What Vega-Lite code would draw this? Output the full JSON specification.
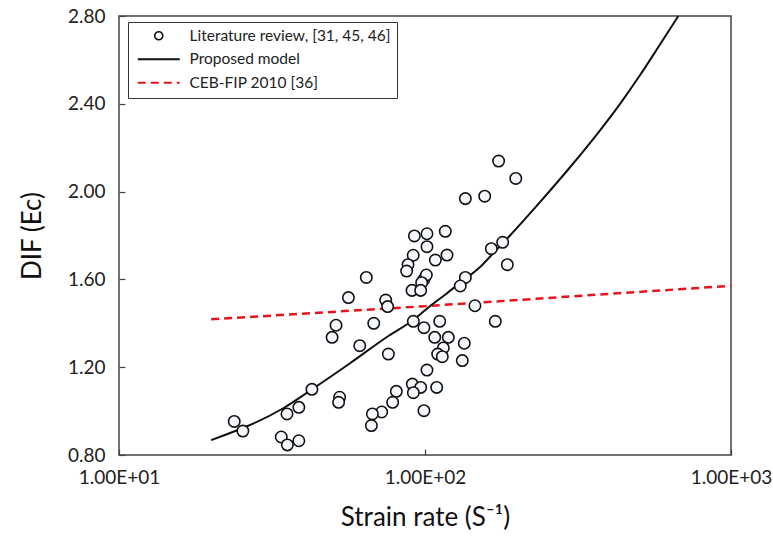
{
  "$schema": "https://vega.github.io/schema/vega-lite/v6.json",
  "width": 612,
  "height": 439,
  "autosize": {"type": "none"},
  "padding": {"left": 119, "top": 16, "right": 42, "bottom": 82},
  "background": "white",
  "config": {
    "font": "Lato",
    "view": {"stroke": "#444", "strokeWidth": 1.5},
    "axis": {"grid": false, "domain": false, "labelFont": "Lato", "titleFont": "Lato", "labelColor": "#222", "titleColor": "#111", "titleFontWeight": "normal", "tickColor": "#444", "tickWidth": 1.2, "tickSize": -6}
  },
  "datasets": {
    "lit": [
      {"rate": 174, "dif": 2.139}, {"rate": 198, "dif": 2.06}, {"rate": 135.5, "dif": 1.968}, {"rate": 156.7, "dif": 1.979},
      {"rate": 92.3, "dif": 1.798}, {"rate": 101.5, "dif": 1.808}, {"rate": 116.5, "dif": 1.819}, {"rate": 101.5, "dif": 1.749},
      {"rate": 91.5, "dif": 1.71}, {"rate": 118, "dif": 1.711}, {"rate": 108.1, "dif": 1.688}, {"rate": 88, "dif": 1.667},
      {"rate": 87.1, "dif": 1.638}, {"rate": 164.7, "dif": 1.74}, {"rate": 179.4, "dif": 1.769}, {"rate": 185.8, "dif": 1.667},
      {"rate": 64.3, "dif": 1.609}, {"rate": 99.2, "dif": 1.6}, {"rate": 101, "dif": 1.62}, {"rate": 97.5, "dif": 1.585},
      {"rate": 90.7, "dif": 1.55}, {"rate": 96.8, "dif": 1.55}, {"rate": 135.5, "dif": 1.609}, {"rate": 130.4, "dif": 1.57},
      {"rate": 56.2, "dif": 1.517}, {"rate": 74.4, "dif": 1.506}, {"rate": 75.5, "dif": 1.476}, {"rate": 145.6, "dif": 1.48},
      {"rate": 51.2, "dif": 1.391}, {"rate": 49.7, "dif": 1.336}, {"rate": 68, "dif": 1.4}, {"rate": 91.6, "dif": 1.409},
      {"rate": 111.7, "dif": 1.409}, {"rate": 169.7, "dif": 1.409}, {"rate": 99.2, "dif": 1.38}, {"rate": 107.6, "dif": 1.336},
      {"rate": 119.2, "dif": 1.336}, {"rate": 61.2, "dif": 1.298}, {"rate": 75.9, "dif": 1.26}, {"rate": 114.8, "dif": 1.288},
      {"rate": 110, "dif": 1.26}, {"rate": 113.9, "dif": 1.248}, {"rate": 134.4, "dif": 1.309}, {"rate": 132.4, "dif": 1.23},
      {"rate": 101.5, "dif": 1.187}, {"rate": 42.7, "dif": 1.099}, {"rate": 90.9, "dif": 1.123}, {"rate": 96.8, "dif": 1.108},
      {"rate": 91.6, "dif": 1.084}, {"rate": 109.2, "dif": 1.108}, {"rate": 80.6, "dif": 1.09}, {"rate": 78.4, "dif": 1.04},
      {"rate": 99.2, "dif": 1.002}, {"rate": 72.2, "dif": 0.996}, {"rate": 67.3, "dif": 0.987}, {"rate": 66.8, "dif": 0.934},
      {"rate": 52.6, "dif": 1.063}, {"rate": 52.2, "dif": 1.04}, {"rate": 38.7, "dif": 1.017}, {"rate": 35.4, "dif": 0.987},
      {"rate": 23.8, "dif": 0.953}, {"rate": 25.4, "dif": 0.909}, {"rate": 33.9, "dif": 0.882}, {"rate": 35.5, "dif": 0.846},
      {"rate": 38.7, "dif": 0.865}
    ],
    "model": [
      {"rate": 20, "dif": 0.868}, {"rate": 34.4, "dif": 1.013}, {"rate": 42.7, "dif": 1.099}, {"rate": 56.9, "dif": 1.218},
      {"rate": 75.9, "dif": 1.342}, {"rate": 91.6, "dif": 1.415}, {"rate": 103.8, "dif": 1.478}, {"rate": 117.8, "dif": 1.536},
      {"rate": 130.4, "dif": 1.585}, {"rate": 151, "dif": 1.655}, {"rate": 164.7, "dif": 1.71}, {"rate": 189.6, "dif": 1.8},
      {"rate": 231.7, "dif": 1.935}, {"rate": 301.6, "dif": 2.12}, {"rate": 364, "dif": 2.26}, {"rate": 434, "dif": 2.4},
      {"rate": 504, "dif": 2.53}, {"rate": 586, "dif": 2.67}, {"rate": 673, "dif": 2.8}
    ],
    "ceb": [
      {"rate": 20, "dif": 1.418}, {"rate": 100, "dif": 1.478}, {"rate": 1000, "dif": 1.571}
    ]
  },
  "encoding": {
    "x": {"field": "rate", "type": "quantitative", "scale": {"type": "log", "domain": [10, 1000], "nice": false},
      "axis": {"title": "Strain rate (S⁻¹)", "values": [10, 100, 1000], "labelExpr": "datum.value == 10 ? '1.00E+01' : datum.value == 100 ? '1.00E+02' : '1.00E+03'", "labelFontSize": 19, "titleFontSize": 26, "labelPadding": 19, "titlePadding": 17, "labelFlush": false}},
    "y": {"field": "dif", "type": "quantitative", "scale": {"domain": [0.8, 2.8], "nice": false, "zero": false},
      "axis": {"title": "DIF (Ec)", "values": [0.8, 1.2, 1.6, 2.0, 2.4, 2.8], "format": ".2f", "labelFontSize": 19, "titleFontSize": 26, "labelPadding": 20, "titlePadding": 22}}
  },
  "layer": [
    {
      "data": {"name": "ceb"},
      "transform": [{"calculate": "'CEB-FIP 2010 [36]'", "as": "series"}],
      "mark": {"type": "line", "strokeWidth": 2.5, "strokeDash": [8, 5]},
      "encoding": {"stroke": {"field": "series", "type": "nominal"}}
    },
    {
      "data": {"name": "model"},
      "transform": [{"calculate": "'Proposed model'", "as": "series"}],
      "mark": {"type": "line", "strokeWidth": 2, "interpolate": "monotone"},
      "encoding": {"stroke": {"field": "series", "type": "nominal"}}
    },
    {
      "data": {"name": "lit"},
      "transform": [{"calculate": "'Literature review, [31, 45, 46]'", "as": "series"}],
      "mark": {"type": "point", "filled": false, "fill": "#f4f8fc", "fillOpacity": 1, "opacity": 1, "size": 130, "strokeWidth": 1.6},
      "encoding": {
        "stroke": {
          "field": "series", "type": "nominal",
          "scale": {"domain": ["Literature review, [31, 45, 46]", "Proposed model", "CEB-FIP 2010 [36]"], "range": ["#111", "#111", "#e8141b"]},
          "legend": {
            "title": null, "orient": "none", "legendX": 9, "legendY": 6,
            "strokeColor": "#333", "fillColor": "white", "padding": 6,
            "labelFont": "Lato", "labelFontSize": 15.5, "labelColor": "#222", "labelLimit": 400,
            "symbolType": "circle", "symbolSize": 64, "symbolStrokeWidth": 1.6,
            "symbolOffset": 17, "labelOffset": 23, "rowPadding": 6.5,
            "encoding": {"symbols": {
              "shape": {"value": {"expr": "datum.value == 'Literature review, [31, 45, 46]' ? 'circle' : 'stroke'"}},
              "size": {"value": {"expr": "datum.value == 'Literature review, [31, 45, 46]' ? 64 : 1764"}},
              "strokeWidth": {"value": {"expr": "datum.value == 'Literature review, [31, 45, 46]' ? 1.6 : 2"}},
              "strokeDash": {"value": {"expr": "datum.value == 'CEB-FIP 2010 [36]' ? [8, 5] : [1, 0]"}},
              "fill": {"value": "transparent"}
            }}
          }
        }
      }
    }
  ]
}
